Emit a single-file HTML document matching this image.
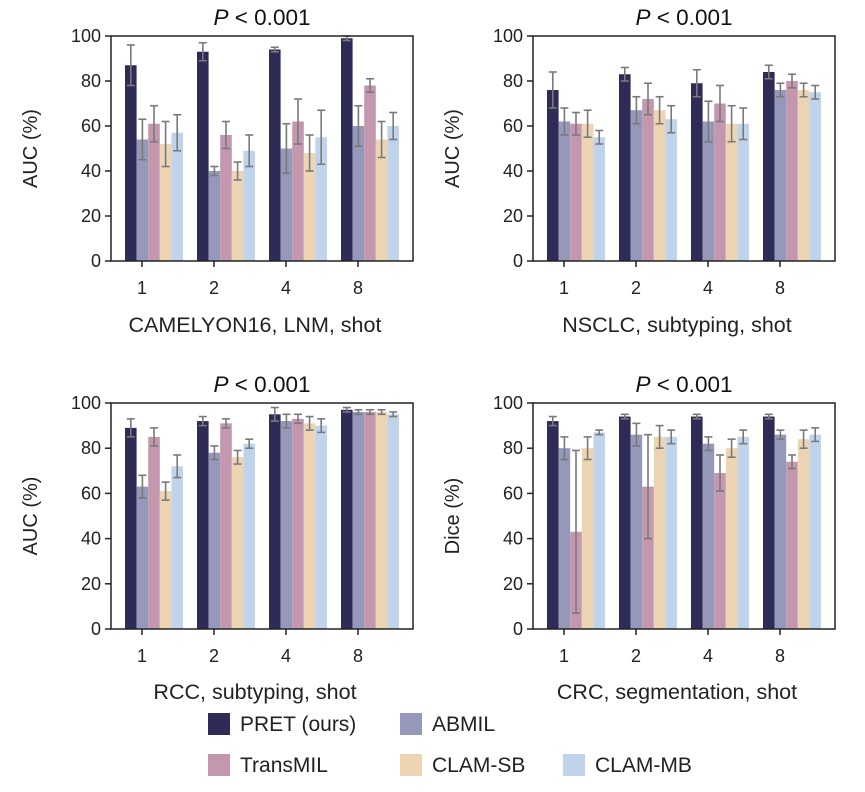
<!DOCTYPE html>
<html><head><meta charset="utf-8">
<style>
html,body{margin:0;padding:0;background:#fff;}
svg{display:block;font-family:"Liberation Sans",sans-serif;}
</style></head>
<body>
<svg id="fig" width="865" height="792" viewBox="0 0 865 792"></svg>
<script>
const categories = ["1","2","4","8"];
const seriesNames = ["PRET (ours)","ABMIL","TransMIL","CLAM-SB","CLAM-MB"];
const yTicks = [0,20,40,60,80,100];
// panel A: CAMELYON16
const camValues = [[87,93,94,99],[54,40,50,60],[61,56,62,78],[52,40,48,54],[57,49,55,60]];
const camErrors = [[9,4,1,1],[9,2,11,9],[8,6,10,3],[10,4,8,8],[8,7,12,6]];
// panel B: NSCLC
const nsValues = [[76,83,79,84],[62,67,62,76],[61,72,70,80],[61,67,61,76],[55,63,61,75]];
const nsErrors = [[8,3,6,3],[6,6,9,3],[5,7,8,3],[6,6,8,3],[3,6,7,3]];
// panel C: RCC
const rccValues = [[89,92,95,97],[63,78,92,96],[85,91,93,96],[61,76,91,96],[72,82,90,95]];
const rccErrors = [[4,2,3,1],[5,3,3,1],[4,2,2,1],[4,3,3,1],[5,2,3,1]];
// panel D: CRC
const crcValues = [[92,94,94,94],[80,86,82,86],[43,63,69,74],[80,85,80,84],[87,85,85,86]];
const crcErrors = [[2,1,1,1],[5,5,3,2],[36,23,8,3],[5,5,4,4],[1,3,3,3]];

const colors = ["#2e2b56","#9598b9","#c397ad","#edd4b2","#bfd4eb"];
const svg = document.getElementById('fig');
const NS = "http://www.w3.org/2000/svg";
function mk(tag, attrs, parent){ const e=document.createElementNS(NS,tag); for(const k in attrs) e.setAttribute(k,attrs[k]); (parent||svg).appendChild(e); return e; }

const panels = [
 {vals:camValues, errs:camErrors, L:111, T:36, B:261, R:413, ylab:"AUC (%)", xt:"CAMELYON16, LNM, shot", ty:17, tk:288, xl:325, id:"camelyon16"},
 {vals:nsValues, errs:nsErrors, L:533, T:36, B:261, R:835, ylab:"AUC (%)", xt:"NSCLC, subtyping, shot", ty:17, tk:288, xl:325, id:"nsclc"},
 {vals:rccValues, errs:rccErrors, L:111, T:403, B:629, R:413, ylab:"AUC (%)", xt:"RCC, subtyping, shot", ty:384, tk:656, xl:692, id:"rcc"},
 {vals:crcValues, errs:crcErrors, L:533, T:403, B:629, R:835, ylab:"Dice (%)", xt:"CRC, segmentation, shot", ty:384, tk:656, xl:692, id:"crc"}
];

panels.forEach(p=>{
  const g = mk('g',{});
  
  
  const y = v => p.B - v/100*(p.B-p.T);
  const xt = i => p.L + 31 + i*72;
  const bw = 11.6;
  const t = mk('text',{x:(p.L+p.R)/2,y:p.ty+8,'text-anchor':'middle','font-size':22.5,fill:'#111'},g);
  
  
  t.innerHTML = '<tspan font-style="italic">P</tspan> &lt; 0.001';
  p.vals.forEach((s,si)=>{
    s.forEach((v,ci)=>{
      const x0 = xt(ci) - 17 + si*bw;
      const r = mk('rect',{x:x0,y:y(v),width:bw,height:p.B-y(v),fill:colors[si]},g);
      
      
      const e = p.errs[si][ci], cx = x0+bw/2;
      const eg = mk('g',{stroke:'#7a7a7a','stroke-width':1.6,fill:'none'},g);
      
      
      mk('line',{x1:cx,x2:cx,y1:y(Math.min(100,v+e)),y2:y(Math.max(0,v-e))},eg);
      mk('line',{x1:cx-4,x2:cx+4,y1:y(Math.min(100,v+e)),y2:y(Math.min(100,v+e))},eg);
      mk('line',{x1:cx-4,x2:cx+4,y1:y(Math.max(0,v-e)),y2:y(Math.max(0,v-e))},eg);
    });
  });
  const fr = mk('rect',{x:p.L,y:p.T,width:p.R-p.L,height:p.B-p.T,fill:'none',stroke:'#222','stroke-width':1.5},g);
  
  
  yTicks.forEach(v=>{
    mk('line',{x1:p.L-6,x2:p.L,y1:y(v),y2:y(v),stroke:'#222','stroke-width':1.5},g);
    const tl = mk('text',{x:p.L-10,y:y(v)+6,'text-anchor':'end','font-size':18,fill:'#222'},g);
    
    
    tl.textContent = v;
  });
  categories.forEach((c,ci)=>{
    mk('line',{x1:xt(ci),x2:xt(ci),y1:p.B,y2:p.B+6,stroke:'#222','stroke-width':1.5},g);
    const tl = mk('text',{x:xt(ci),y:p.tk+6,'text-anchor':'middle','font-size':18,fill:'#222'},g);
    
    
    tl.textContent = c;
  });
  const yl = mk('text',{x:0,y:0,'text-anchor':'middle','font-size':20,fill:'#222',transform:`translate(${p.L-74},${(p.T+p.B)/2}) rotate(-90)`},g);
  
  
  yl.textContent = p.ylab;
  const xl = mk('text',{x:(p.L+p.R)/2-7,y:p.xl+7,'text-anchor':'middle','font-size':21.5,fill:'#222'},g);
  
  
  xl.textContent = p.xt;
});

const legPos = [[208,724],[400,724],[208,765],[400,765],[563,765]];
seriesNames.forEach((n,i)=>{
  const g = mk('g',{});
  
  
  const [lx,ly] = legPos[i];
  mk('rect',{x:lx,y:ly-11,width:22,height:22,fill:colors[i]},g);
  const t = mk('text',{x:lx+32,y:ly+7,'font-size':21,fill:'#222'},g);
  t.textContent = n;
});
</script>
</body></html>
